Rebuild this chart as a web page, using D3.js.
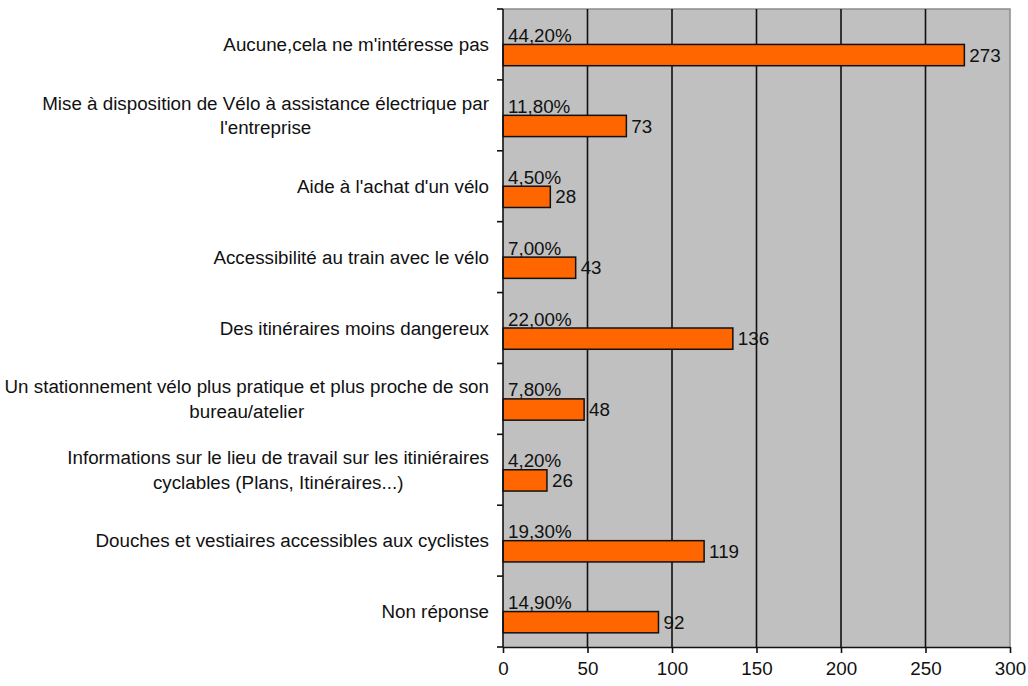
<!DOCTYPE html>
<html>
<head>
<meta charset="utf-8">
<script src="https://cdn.jsdelivr.net/npm/d3@7"></script>
<style>
  body { margin: 0; background: #fff; }
  svg text { font-family: "Liberation Sans", Arial, sans-serif; font-size: 18.8px; fill: #111; }
</style>
</head>
<body>
<div id="chart"></div>
<script>
// categories (each entry = lines of the label)
var categories = [
  ["Aucune,cela ne m'intéresse pas"],
  ["Mise à disposition de Vélo à assistance électrique par", "l'entreprise"],
  ["Aide à l'achat d'un vélo"],
  ["Accessibilité au train avec le vélo"],
  ["Des itinéraires moins dangereux"],
  ["Un stationnement vélo plus pratique et plus proche de son", "bureau/atelier"],
  ["Informations sur le lieu de travail sur les itiniéraires", "cyclables (Plans, Itinéraires...)"],
  ["Douches et vestiaires accessibles aux cyclistes"],
  ["Non réponse"]
];
var counts = [273, 73, 28, 43, 136, 48, 26, 119, 92];
var percents = ["44,20%", "11,80%", "4,50%", "7,00%", "22,00%", "7,80%", "4,20%", "19,30%", "14,90%"];
var xTicks = [0, 50, 100, 150, 200, 250, 300];

var W = 1028, H = 686;
var margin = {top: 9, right: 18, bottom: 39, left: 503},
    width = W - margin.left - margin.right,
    height = H - margin.top - margin.bottom;

var svg = d3.select("#chart")
  .append("svg")
    .attr("width", W)
    .attr("height", H)
  .append("g")
    .attr("transform", "translate(" + margin.left + "," + margin.top + ")");

var keys = d3.range(categories.length);

var x = d3.scaleLinear().domain([0, 300]).range([0, width]);
var y = d3.scaleBand().domain(keys).range([0, height]);
var bw = y.bandwidth();

// plot background
svg.append("rect")
  .attr("width", width).attr("height", height)
  .style("fill", "#c0c0c0");

// top and right border
svg.append("path")
  .attr("d", "M0,0H" + width + "V" + height)
  .style("fill", "none").style("stroke", "#8c8c8c").style("stroke-width", 1.5);

// vertical gridlines
svg.append("g")
  .selectAll("line")
  .data(xTicks.filter(d => d > 0 && d < 300))
  .enter()
  .append("line")
    .attr("x1", d => x(d)).attr("x2", d => x(d))
    .attr("y1", 0).attr("y2", height)
    .style("stroke", "#111").style("stroke-width", 1.6);

// bars
svg.append("g")
  .selectAll("rect")
  .data(keys)
  .enter()
  .append("rect")
    .attr("x", 0)
    .attr("y", i => y(i) + bw * 0.5)
    .attr("width", i => x(counts[i]))
    .attr("height", bw * 0.3)
    .style("fill", "#ff6600")
    .style("stroke", "#111")
    .style("stroke-width", 1.5);

// percent labels above bars
svg.append("g")
  .selectAll("text")
  .data(keys)
  .enter()
  .append("text")
    .attr("x", 5)
    .attr("y", i => y(i) + bw * 0.5 - 2.5)
    .text(i => percents[i]);

// count labels right of bars
svg.append("g")
  .selectAll("text")
  .data(keys)
  .enter()
  .append("text")
    .attr("x", i => x(counts[i]) + 5)
    .attr("y", i => y(i) + bw * 0.65)
    .attr("dy", "0.35em")
    .text(i => counts[i]);

// x axis
var xAxis = svg.append("g")
  .attr("transform", "translate(0," + height + ")")
  .call(d3.axisBottom(x).tickValues(xTicks).tickSize(6).tickSizeOuter(0).tickPadding(9));
xAxis.select(".domain").style("stroke", "#111").style("stroke-width", 1.6);
xAxis.selectAll(".tick line").style("stroke", "#111").style("stroke-width", 1.6);
xAxis.selectAll("text").style("font-size", "18.8px").style("fill", "#111").style("font-family", "Liberation Sans, Arial, sans-serif");

// y axis line with ticks at band boundaries
svg.append("line")
  .attr("x1", 0).attr("x2", 0).attr("y1", 0).attr("y2", height)
  .style("stroke", "#111").style("stroke-width", 1.6);
svg.append("g")
  .selectAll("line")
  .data(d3.range(categories.length + 1))
  .enter()
  .append("line")
    .attr("x1", -6).attr("x2", 0)
    .attr("y1", i => i < categories.length ? y(i) : height)
    .attr("y2", i => i < categories.length ? y(i) : height)
    .style("stroke", "#111").style("stroke-width", 1.6);

// category labels: block right-aligned, lines centred within block
var lineH = 24.5;
var labels = svg.append("g")
  .selectAll("g")
  .data(keys)
  .enter()
  .append("g");

labels.each(function(i) {
  var g = d3.select(this);
  var lines = categories[i];
  var cy = y(i) + bw / 2;
  var texts = g.selectAll("text")
    .data(lines)
    .enter()
    .append("text")
      .attr("y", (d, j) => cy + (j - (lines.length - 1) / 2) * lineH)
      .attr("dy", "0.35em")
      .attr("text-anchor", "middle")
      .text(d => d);
  var maxW = d3.max(texts.nodes(), n => n.getComputedTextLength());
  texts.attr("x", -14 - maxW / 2);
});
</script>
</body>
</html>
